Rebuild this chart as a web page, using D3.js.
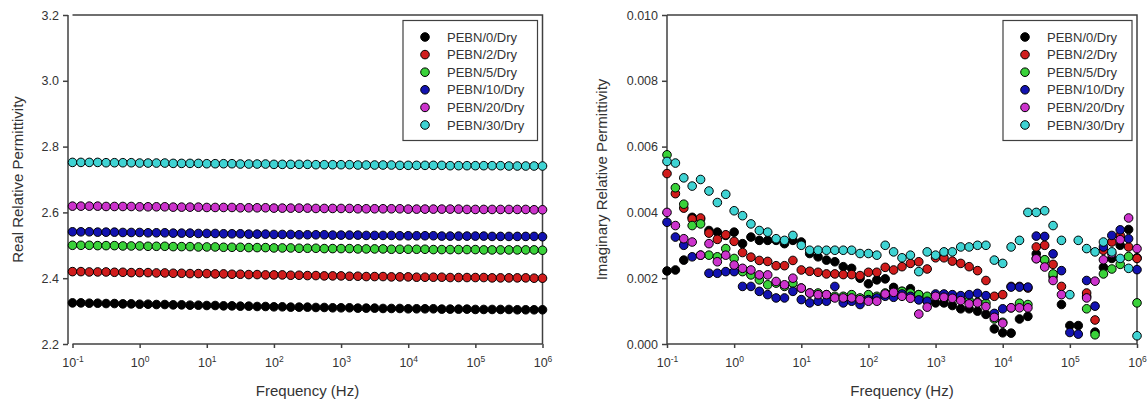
<!DOCTYPE html>
<html><head><meta charset="utf-8">
<script src="https://cdn.jsdelivr.net/npm/d3@7/dist/d3.min.js"></script>
<style>
body{margin:0;background:#fff;}
svg{display:block;font-family:Arial,"Liberation Sans",sans-serif;}
</style></head>
<body><svg id="c" width="1147" height="403"></svg>
<script>
// ---------- data ----------
const seriesNames = ["PEBN/0/Dry","PEBN/2/Dry","PEBN/5/Dry","PEBN/10/Dry","PEBN/20/Dry","PEBN/30/Dry"];
const seriesColors = ["#000000","#d01c1c","#3ad23a","#1212b0","#cc33cc","#3fd3d3"];
const freq = [
 1e-1,1.334e-1,1.778e-1,2.371e-1,3.162e-1,4.217e-1,5.623e-1,7.499e-1,
 1e0,1.334e0,1.778e0,2.371e0,3.162e0,4.217e0,5.623e0,7.499e0,
 1e1,1.334e1,1.778e1,2.371e1,3.162e1,4.217e1,5.623e1,7.499e1,
 1e2,1.334e2,1.778e2,2.371e2,3.162e2,4.217e2,5.623e2,7.499e2,
 1e3,1.334e3,1.778e3,2.371e3,3.162e3,4.217e3,5.623e3,7.499e3,
 1e4,1.334e4,1.778e4,2.371e4,3.162e4,4.217e4,5.623e4,7.499e4,
 1e5,1.334e5,1.778e5,2.371e5,3.162e5,4.217e5,5.623e5,7.499e5,
 1e6];
const xTickExps = [-1,0,1,2,3,4,5,6];
const realTicks = [2.2,2.4,2.6,2.8,3.0,3.2];
const imagTicks = [0,0.002,0.004,0.006,0.008,0.010];

// Real relative permittivity
const real0 = [2.325,2.325,2.324,2.324,2.323,2.323,2.322,2.322,2.321,
 2.321,2.320,2.320,2.319,2.319,2.318,2.318,2.317,
 2.317,2.316,2.316,2.315,2.315,2.314,2.314,2.313,
 2.313,2.312,2.312,2.312,2.311,2.311,2.310,2.310,
 2.310,2.309,2.309,2.309,2.308,2.308,2.308,2.307,
 2.307,2.307,2.307,2.306,2.306,2.306,2.306,2.305,
 2.305,2.305,2.305,2.305,2.304,2.304,2.304,2.304];
const real2 = [2.420,2.420,2.419,2.419,2.419,2.418,2.418,2.417,2.417,
 2.417,2.416,2.416,2.415,2.415,2.414,2.414,2.414,
 2.413,2.413,2.412,2.412,2.411,2.411,2.410,2.410,
 2.410,2.409,2.409,2.408,2.408,2.407,2.407,2.407,
 2.406,2.406,2.405,2.405,2.405,2.404,2.404,2.404,
 2.403,2.403,2.403,2.403,2.402,2.402,2.402,2.402,
 2.402,2.401,2.401,2.401,2.401,2.401,2.400,2.400];
const real5 = [2.500,2.500,2.500,2.499,2.499,2.499,2.498,2.498,2.498,
 2.497,2.497,2.497,2.496,2.496,2.496,2.495,2.495,
 2.495,2.494,2.494,2.494,2.493,2.493,2.493,2.492,
 2.492,2.492,2.491,2.491,2.491,2.490,2.490,2.490,
 2.490,2.489,2.489,2.489,2.489,2.488,2.488,2.488,
 2.488,2.488,2.487,2.487,2.487,2.487,2.487,2.487,
 2.486,2.486,2.486,2.486,2.486,2.486,2.486,2.485];
const real10 = [2.541,2.541,2.541,2.540,2.540,2.540,2.539,2.539,2.539,
 2.538,2.538,2.538,2.537,2.537,2.537,2.536,2.536,
 2.536,2.535,2.535,2.535,2.534,2.534,2.534,2.533,
 2.533,2.533,2.532,2.532,2.532,2.532,2.531,2.531,
 2.531,2.531,2.530,2.530,2.530,2.530,2.529,2.529,
 2.529,2.529,2.529,2.528,2.528,2.528,2.528,2.528,
 2.528,2.527,2.527,2.527,2.527,2.527,2.527,2.526];
const real20 = [2.619,2.619,2.619,2.619,2.618,2.618,2.618,2.618,2.617,
 2.617,2.617,2.617,2.616,2.616,2.616,2.616,2.615,
 2.615,2.615,2.615,2.614,2.614,2.614,2.614,2.613,
 2.613,2.613,2.613,2.613,2.612,2.612,2.612,2.612,
 2.612,2.611,2.611,2.611,2.611,2.611,2.611,2.610,
 2.610,2.610,2.610,2.610,2.610,2.610,2.609,2.609,
 2.609,2.609,2.609,2.609,2.609,2.609,2.608,2.608];
const real30 = [2.752,2.752,2.752,2.752,2.751,2.751,2.751,2.751,2.750,
 2.750,2.750,2.750,2.749,2.749,2.749,2.749,2.748,
 2.748,2.748,2.748,2.747,2.747,2.747,2.747,2.746,
 2.746,2.746,2.746,2.746,2.745,2.745,2.745,2.745,
 2.745,2.744,2.744,2.744,2.744,2.744,2.743,2.743,
 2.743,2.743,2.743,2.743,2.742,2.742,2.742,2.742,
 2.742,2.742,2.742,2.741,2.741,2.741,2.741,2.741];

// Imaginary relative permittivity (null = no visible point)
const imag0 = [2.22e-3,2.25e-3,2.55e-3,3.85e-3,3.80e-3,3.45e-3,3.40e-3,3.30e-3,
 3.40e-3,3.05e-3,3.25e-3,3.15e-3,3.15e-3,3.15e-3,3.05e-3,3.15e-3,
 3.10e-3,2.75e-3,2.65e-3,2.55e-3,2.50e-3,2.35e-3,2.30e-3,2.00e-3,
 1.83e-3,1.95e-3,1.98e-3,1.72e-3,1.60e-3,1.68e-3,1.50e-3,1.30e-3,
 1.25e-3,1.25e-3,1.17e-3,1.07e-3,1.07e-3,1.00e-3,0.90e-3,0.46e-3,
 0.34e-3,0.33e-3,0.76e-3,0.84e-3,2.74e-3,2.55e-3,2.05e-3,1.20e-3,
 0.56e-3,0.56e-3,1.45e-3,0.36e-3,2.33e-3,2.60e-3,3.00e-3,3.48e-3,
 2.62e-3];
const imag2 = [5.18e-3,4.57e-3,4.13e-3,3.80e-3,3.83e-3,3.37e-3,3.18e-3,3.32e-3,
 3.12e-3,2.78e-3,2.64e-3,2.54e-3,2.51e-3,2.38e-3,2.38e-3,2.54e-3,
 2.25e-3,2.21e-3,2.18e-3,2.13e-3,2.13e-3,2.11e-3,2.11e-3,2.08e-3,
 2.18e-3,2.18e-3,2.33e-3,2.25e-3,2.35e-3,2.45e-3,2.50e-3,2.28e-3,
 2.62e-3,2.62e-3,2.52e-3,2.45e-3,2.35e-3,2.23e-3,1.93e-3,1.45e-3,
 1.50e-3,1.75e-3,1.75e-3,1.70e-3,2.95e-3,3.00e-3,2.42e-3,1.75e-3,
 null,null,1.55e-3,0.73e-3,2.85e-3,3.10e-3,3.30e-3,2.95e-3,
 2.60e-3];
const imag5 = [5.75e-3,4.75e-3,4.25e-3,3.60e-3,3.65e-3,2.70e-3,2.65e-3,2.90e-3,
 2.60e-3,2.20e-3,2.10e-3,1.95e-3,1.80e-3,1.85e-3,1.75e-3,1.85e-3,
 1.70e-3,1.55e-3,1.55e-3,1.50e-3,1.45e-3,1.45e-3,1.50e-3,1.40e-3,
 1.50e-3,1.45e-3,1.55e-3,1.57e-3,1.60e-3,1.55e-3,1.50e-3,1.45e-3,
 1.47e-3,1.42e-3,1.42e-3,1.37e-3,1.32e-3,1.27e-3,1.24e-3,0.76e-3,
 0.66e-3,1.10e-3,1.24e-3,1.20e-3,2.60e-3,2.56e-3,2.13e-3,null,
 null,null,1.07e-3,0.28e-3,2.13e-3,2.28e-3,2.42e-3,2.66e-3,
 1.25e-3];
const imag10 = [3.70e-3,3.25e-3,3.00e-3,2.65e-3,2.70e-3,2.15e-3,2.15e-3,2.20e-3,
 2.20e-3,1.75e-3,1.75e-3,1.60e-3,1.50e-3,1.40e-3,1.40e-3,1.60e-3,
 1.35e-3,1.25e-3,1.30e-3,1.30e-3,1.75e-3,1.25e-3,1.30e-3,1.20e-3,
 1.35e-3,1.40e-3,1.45e-3,1.42e-3,1.52e-3,1.45e-3,1.34e-3,1.30e-3,
 1.52e-3,1.52e-3,1.50e-3,1.47e-3,1.50e-3,1.54e-3,1.47e-3,0.93e-3,
 1.07e-3,1.73e-3,1.73e-3,1.73e-3,3.28e-3,3.27e-3,2.74e-3,2.23e-3,
 0.35e-3,0.30e-3,1.93e-3,1.15e-3,2.95e-3,3.30e-3,3.47e-3,3.20e-3,
 2.26e-3];
const imag20 = [4.00e-3,3.60e-3,3.20e-3,3.10e-3,2.70e-3,3.05e-3,2.50e-3,2.70e-3,
 2.40e-3,2.30e-3,2.25e-3,2.10e-3,2.10e-3,1.90e-3,1.80e-3,2.00e-3,
 1.70e-3,1.55e-3,1.50e-3,1.50e-3,1.40e-3,1.40e-3,1.40e-3,1.35e-3,
 1.30e-3,1.30e-3,1.52e-3,1.57e-3,1.45e-3,1.39e-3,0.91e-3,1.12e-3,
 1.45e-3,1.42e-3,1.39e-3,1.32e-3,1.22e-3,1.25e-3,1.14e-3,0.81e-3,
 0.63e-3,1.10e-3,1.10e-3,1.10e-3,2.59e-3,2.34e-3,1.93e-3,1.50e-3,
 null,null,1.40e-3,1.91e-3,2.56e-3,2.75e-3,3.17e-3,3.83e-3,
 2.90e-3];
const imag30 = [5.55e-3,5.50e-3,5.05e-3,4.80e-3,5.00e-3,4.65e-3,4.30e-3,4.55e-3,
 4.05e-3,3.90e-3,3.65e-3,3.45e-3,3.40e-3,3.20e-3,3.15e-3,3.30e-3,
 3.00e-3,2.85e-3,2.85e-3,2.85e-3,2.85e-3,2.85e-3,2.85e-3,2.75e-3,
 2.75e-3,2.70e-3,3.00e-3,2.80e-3,2.62e-3,2.70e-3,2.20e-3,2.80e-3,
 2.70e-3,2.80e-3,2.80e-3,2.95e-3,2.95e-3,3.00e-3,3.00e-3,2.55e-3,
 2.45e-3,2.95e-3,3.15e-3,4.00e-3,4.00e-3,4.05e-3,3.60e-3,3.15e-3,
 1.50e-3,3.15e-3,2.90e-3,2.80e-3,3.10e-3,2.80e-3,2.60e-3,2.30e-3,
 0.25e-3];

const realSeries = [real0,real2,real5,real10,real20,real30];
const imagSeries = [imag0,imag2,imag5,imag10,imag20,imag30];

// ---------- drawing ----------
const svg = d3.select("#c");
const AX = "#404040", TXT = "#333";
const R = 4.3;

function drawPanel(opt){
  const g = svg.append("g");
  const x = d3.scaleLog().domain([0.1,1e6]).range([opt.x0,opt.x1]);
  const y = d3.scaleLinear().domain(opt.yDomain).range([344,15]);
  // frame top & right
  g.append("path").attr("d",`M${opt.x0},15H${opt.x1}V344`).attr("fill","none")
    .attr("stroke",AX).attr("stroke-width",1.5);
  // y axis
  const ya = g.append("g").attr("transform",`translate(${opt.yAxisX},0)`)
    .call(d3.axisLeft(y).tickValues(opt.yTicks).tickFormat(opt.yFmt).tickSize(5).tickPadding(4));
  ya.select(".domain").attr("d",`M0,15V344`).attr("stroke",AX).attr("stroke-width",1.5);
  ya.selectAll(".tick line").attr("stroke",AX).attr("stroke-width",1.5);
  ya.selectAll(".tick text").attr("fill",TXT).style("font-size","12.5px").style("font-family","Arial, 'Liberation Sans', sans-serif");
  // x axis
  const xa = g.append("g").attr("transform","translate(0,344)")
    .call(d3.axisBottom(x).tickValues(xTickExps.map(e=>Math.pow(10,e))).tickFormat("").tickSize(4));
  xa.select(".domain").attr("d",`M${opt.x0},0H${opt.x1}`).attr("stroke",AX).attr("stroke-width",1.5);
  xa.selectAll(".tick line").attr("stroke",AX).attr("stroke-width",1.5);
  xa.selectAll(".tick").each(function(d,i){
    const t = d3.select(this).append("text").attr("y",23).attr("text-anchor","middle")
      .attr("fill",TXT).style("font-size","12.5px").style("font-family","Arial, 'Liberation Sans', sans-serif");
    t.append("tspan").text("10");
    t.append("tspan").attr("dy",-5).style("font-size","8.5px").text(String(xTickExps[i]).replace("-","-"));
  });
  // points
  opt.series.forEach((vals,si)=>{
    const pts = freq.map((f,i)=>({f, v: vals[i]})).filter(d=>d.v!=null);
    g.append("g").selectAll("circle").data(pts).join("circle")
      .attr("cx",d=>x(d.f)).attr("cy",d=>y(d.v)).attr("r",R)
      .attr("fill",seriesColors[si]).attr("stroke","#000").attr("stroke-width",1);
  });
  // axis titles
  g.append("text").attr("x",(opt.x0+opt.x1)/2).attr("y",396).attr("text-anchor","middle")
    .attr("fill",TXT).style("font-size","15px").text("Frequency (Hz)");
  g.append("text").attr("transform",`translate(${opt.titleX},179.5) rotate(-90)`).attr("text-anchor","middle")
    .attr("fill",TXT).style("font-size","15px").text(opt.yTitle);
  // legend
  const lg = g.append("g");
  lg.append("rect").attr("x",opt.legX).attr("y",20.5).attr("width",opt.x1-5-opt.legX).attr("height",120)
    .attr("fill","#fff").attr("stroke",AX).attr("stroke-width",1.2);
  seriesNames.forEach((n,i)=>{
    const yy = 37 + i*17.6;
    lg.append("circle").attr("cx",opt.legX+22).attr("cy",yy).attr("r",R)
      .attr("fill",seriesColors[i]).attr("stroke","#000").attr("stroke-width",1);
    lg.append("text").attr("x",opt.legX+44).attr("y",yy+4.5).attr("fill",TXT)
      .style("font-size","13px").text(n);
  });
}

drawPanel({x0:72.5,x1:542.5,yAxisX:68,yDomain:[2.2,3.2],yTicks:realTicks,
  yFmt:d3.format(".1f"),series:realSeries,yTitle:"Real Relative Permittivity",titleX:23,legX:403});
drawPanel({x0:667,x1:1137,yAxisX:667,yDomain:[0,0.01],yTicks:imagTicks,
  yFmt:d3.format(".3f"),series:imagSeries,yTitle:"Imaginary Relative Permittivity",titleX:607,legX:1003});
</script>
</body></html>
